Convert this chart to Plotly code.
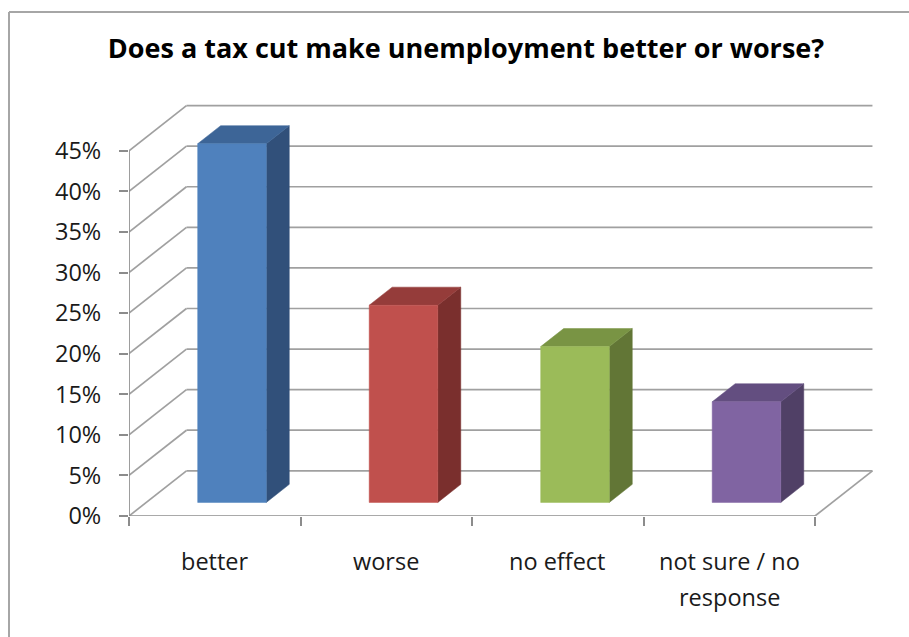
import plotly.graph_objects as go

# Survey answers and their shares (percent of respondents)
categories = ["better", "worse", "no effect", "not sure / no<br>response"]
shares = [44.2, 24.3, 19.2, 12.4]

# Value-axis ticks
tick_values = [0, 5, 10, 15, 20, 25, 30, 35, 40, 45]
tick_labels = ["0%", "5%", "10%", "15%", "20%", "25%", "30%", "35%", "40%", "45%"]

# Face colours for each column: front, top and right side
front_colors = ["#4F81BD", "#C0504D", "#9BBB59", "#8064A2"]
top_colors = ["#3D6597", "#953C3A", "#799444", "#634E80"]
side_colors = ["#31507A", "#7A2F2D", "#627636", "#504066"]

TITLE = "Does a tax cut make unemployment better or worse?"

# Oblique-projection depth offsets, expressed in axis units
DX = 0.335      # shift along category axis for full depth
DY = 5.57       # shift along value axis for full depth
HALF_W = 0.2    # half column width (gap width 150%)
Z0, Z1 = 0.3, 0.7   # column depth span inside the floor

GRID = "#A0A0A0"
AXIS = "#8C8C8C"
FONT = "Open Sans"
LABEL_SIZE = 23.5

n = len(categories)
x_lo, x_hi = -0.5, n - 0.5

fig = go.Figure()

# Back wall gridlines and left wall diagonals
gx, gy = [], []
for v in tick_values:
    gx += [x_lo + DX, x_hi + DX, None, x_lo, x_lo + DX, None]
    gy += [v + DY, v + DY, None, v, v + DY, None]
# right edge of the floor
gx += [x_hi, x_hi + DX, None]
gy += [0, DY, None]
fig.add_trace(go.Scatter(x=gx, y=gy, mode="lines",
                         line=dict(color=GRID, width=1.7),
                         hoverinfo="skip", showlegend=False))

# Front axis lines (value axis and floor front edge)
fig.add_trace(go.Scatter(x=[x_lo, x_lo, None, x_lo, x_hi],
                         y=[max(tick_values), 0, None, 0, 0],
                         mode="lines", line=dict(color=AXIS, width=1.7),
                         hoverinfo="skip", showlegend=False))

ddx = (Z1 - Z0) * DX
ddy = (Z1 - Z0) * DY
for i, (cat, v) in enumerate(zip(categories, shares)):
    x0 = i - HALF_W + Z0 * DX
    x1 = i + HALF_W + Z0 * DX
    y0 = Z0 * DY
    y1 = y0 + v
    # right side face
    fig.add_trace(go.Scatter(
        x=[x1, x1 + ddx, x1 + ddx, x1, x1],
        y=[y0, y0 + ddy, y1 + ddy, y1, y0],
        fill="toself", fillcolor=side_colors[i], mode="lines",
        line=dict(color=side_colors[i], width=0.5),
        hoverinfo="skip", showlegend=False))
    # top face
    fig.add_trace(go.Scatter(
        x=[x0, x1, x1 + ddx, x0 + ddx, x0],
        y=[y1, y1, y1 + ddy, y1 + ddy, y1],
        fill="toself", fillcolor=top_colors[i], mode="lines",
        line=dict(color=top_colors[i], width=0.5),
        hoverinfo="skip", showlegend=False))
    # front face
    fig.add_trace(go.Scatter(
        x=[x0, x1, x1, x0, x0],
        y=[y0, y0, y1, y1, y0],
        fill="toself", fillcolor=front_colors[i], mode="lines",
        line=dict(color=front_colors[i], width=0.5),
        name=cat.replace("<br>", " "), text=[f"{v}%"] * 5,
        hoverinfo="name+text", showlegend=False))

    # category label below the floor, one annotation per text line
    for k, line in enumerate(cat.split("<br>")):
        fig.add_annotation(x=i, y=0, xref="x", yref="y", text=line,
                           showarrow=False, xanchor="center",
                           yanchor="middle", yshift=-(45 + 36 * k),
                           font=dict(family=FONT, size=LABEL_SIZE,
                                     color="#1a1a1a"))

# Plot-area geometry in pixels
W, H = 909, 637
L, R, T, B = 129, 34, 94, 121
plot_w = W - L - R
plot_h = H - T - B
units_per_px = 1 / 171.5
y_max = 52

fig.update_layout(
    width=W, height=H,
    margin=dict(l=L, r=R, t=T, b=B),
    paper_bgcolor="white", plot_bgcolor="white",
    showlegend=False,
    title=dict(text=f"<b>{TITLE}</b>", x=466 / W, xref="container",
               xanchor="center", y=1 - 49 / H, yref="container",
               yanchor="middle",
               font=dict(family=FONT, size=27, color="#000000")),
    xaxis=dict(range=[x_lo, x_lo + plot_w * units_per_px],
               showgrid=False, zeroline=False, showline=False,
               tickmode="array", tickvals=list(range(n)),
               ticks="", showticklabels=False,
               minor=dict(ticks="outside", ticklen=9, tickwidth=1.7,
                          tickcolor=AXIS, tick0=x_lo, dtick=1,
                          showgrid=False),
               fixedrange=True),
    yaxis=dict(range=[0, y_max], showgrid=False, zeroline=False,
               showline=False, tickmode="array", tickvals=tick_values,
               ticktext=tick_labels, ticks="outside", ticklen=9,
               tickwidth=1.7, tickcolor=AXIS, ticklabelstandoff=13,
               tickfont=dict(family=FONT, size=23.5, color="#1a1a1a"),
               fixedrange=True),
)

# Chart frame (top and left edges)
def px_x(px):
    return (px - L) / plot_w

def px_y(py):
    return (H - B - py) / plot_h

fig.add_shape(type="line", xref="paper", yref="paper",
              x0=px_x(9), x1=px_x(W + 5), y0=px_y(12), y1=px_y(12),
              line=dict(color="#A6A6A6", width=2))
fig.add_shape(type="line", xref="paper", yref="paper",
              x0=px_x(9), x1=px_x(9), y0=px_y(12), y1=px_y(H + 5),
              line=dict(color="#A6A6A6", width=2))

fig.write_html("out.html")
